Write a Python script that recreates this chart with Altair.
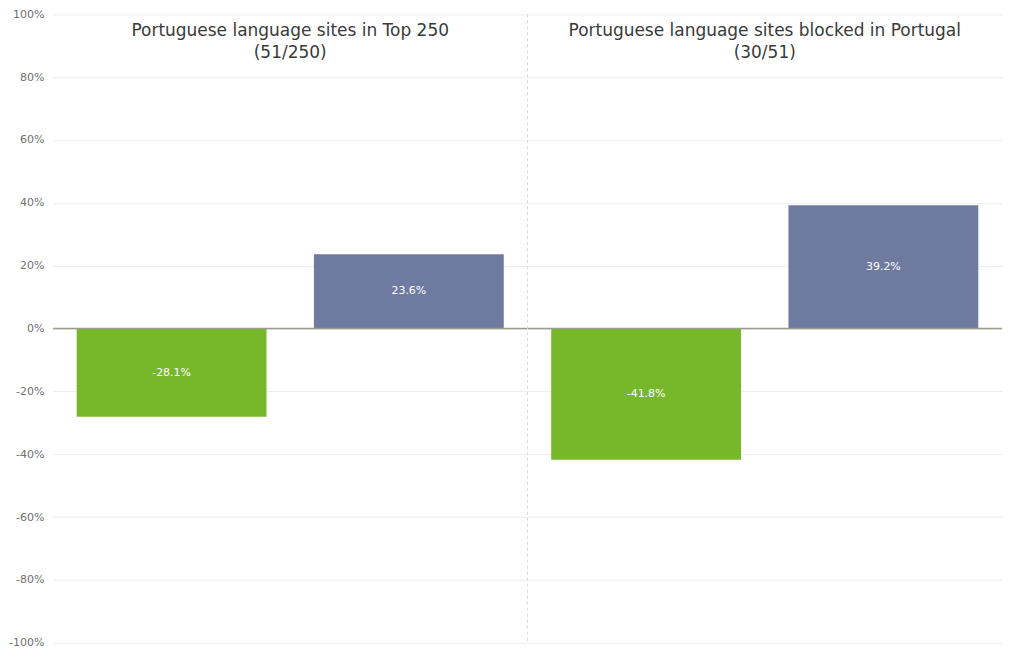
import altair as alt
import pandas as pd

panels = ["Portuguese language sites in Top 250\n(51/250)",
          "Portuguese language sites blocked in Portugal\n(30/51)"]
series = ["A", "B"]
values_a = [-28.1, -41.8]
values_b = [23.6, 39.2]
y_ticks = [-100, -80, -60, -40, -20, 0, 20, 40, 60, 80, 100]
colors = ["#76b82a", "#6e7aa0"]

rows = []
for i, p in enumerate(panels):
    rows.append({"slot": f"{i}{series[0]}", "panel": p, "series": series[0], "value": values_a[i]})
    rows.append({"slot": f"{i}{series[1]}", "panel": p, "series": series[1], "value": values_b[i]})
df = pd.DataFrame(rows)
slots = list(df["slot"])

FONT = "DejaVu Sans"
W, H = 950, 629

xscale = alt.Scale(domain=slots, paddingInner=0.2, paddingOuter=0.1)
yscale = alt.Scale(domain=[-100, 100], nice=False)
pscale = alt.Scale(domain=[0, len(panels)], nice=False, zero=False)

base = alt.Chart(df)

bars = base.mark_bar().encode(
    x=alt.X("slot:N", scale=xscale, axis=None),
    y=alt.Y("value:Q", scale=yscale,
            axis=alt.Axis(values=y_ticks, labelExpr="datum.value + '%'", title=None,
                          domain=False, ticks=False, grid=True, gridColor="#eeeeee",
                          labelColor="#707070", labelFontSize=11, labelFont=FONT,
                          labelPadding=9)),
    color=alt.Color("series:N", sort=series, scale=alt.Scale(domain=series, range=colors),
                    legend=None),
)

labels = base.transform_calculate(
    half="datum.value / 2", lbl="toString(datum.value) + '%'"
).mark_text(color="white", fontSize=11, font=FONT, baseline="middle").encode(
    x=alt.X("slot:N", scale=xscale, axis=None),
    y=alt.Y("half:Q", scale=yscale),
    text="lbl:N",
)

zero = alt.Chart(pd.DataFrame({"z": [0]})).mark_rule(color="#9c9c8c", strokeWidth=1.5).encode(
    y=alt.Y("z:Q", scale=yscale)
)

panel_df = pd.DataFrame({"panel": panels, "idx": list(range(len(panels)))})

sep = alt.Chart(panel_df).transform_filter("datum.idx > 0").mark_rule(
    color="#d8d8d8", strokeDash=[3, 3], strokeWidth=1
).encode(
    x=alt.X("idx:Q", scale=pscale, axis=None),
    y=alt.value(0), y2=alt.value(H),
)

titles = alt.Chart(panel_df).transform_calculate(mid="datum.idx + 0.5").mark_text(
    fontSize=17, font=FONT, color="#3a3a3a", baseline="top", lineBreak="\n",
    lineHeight=22, align="center"
).encode(
    x=alt.X("mid:Q", scale=pscale, axis=None),
    y=alt.value(9),
    text="panel:N",
)

bar_layer = alt.layer(bars, zero, labels)
deco_layer = alt.layer(sep, titles)

chart = alt.layer(bar_layer, deco_layer).resolve_scale(x="independent").properties(
    width=W, height=H,
    padding={"left": 0, "top": 0, "right": 0, "bottom": 0},
).configure_view(stroke=None)

chart.save("out.html", embed_options={"renderer": "svg", "actions": False})
